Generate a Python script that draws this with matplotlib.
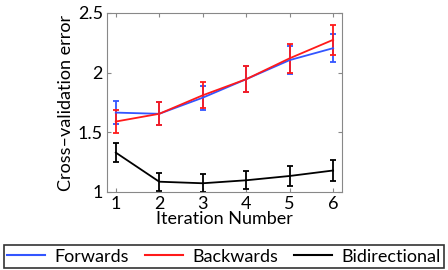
import matplotlib
matplotlib.use('Agg')
import matplotlib.pyplot as plt
import numpy as np

plt.rcParams['font.family'] = ['Lato', 'DejaVu Sans']

iterations = [1, 2, 3, 4, 5, 6]

forwards = [1.665, 1.655, 1.79, 1.945, 2.105, 2.205]
forwards_err = [0.095, 0.095, 0.10, 0.11, 0.115, 0.12]

backwards = [1.59, 1.655, 1.81, 1.945, 2.12, 2.275]
backwards_err = [0.095, 0.095, 0.11, 0.11, 0.12, 0.125]

bidirectional = [1.33, 1.086, 1.073, 1.098, 1.134, 1.18]
bidirectional_err = [0.08, 0.075, 0.075, 0.075, 0.085, 0.085]

fig = plt.figure(figsize=(4.48, 2.7), dpi=100)
ax = fig.add_axes([0.239, 0.289, 0.524, 0.663])

series = [
    ('Forwards', forwards, forwards_err, '#3355ff'),
    ('Backwards', backwards, backwards_err, '#ff1a1a'),
    ('Bidirectional', bidirectional, bidirectional_err, 'black'),
]
handles = []
for name, vals, errs, col in series:
    ax.errorbar(iterations, vals, yerr=errs, color=col, lw=1.3,
                elinewidth=1.3, capsize=2.5, capthick=1.3)
    h, = ax.plot([], [], color=col, lw=1.5, label=name)
    handles.append(h)

ax.set_xlim(0.8, 6.2)
ax.set_ylim(1, 2.5)
ax.set_xticks(iterations)
ax.set_yticks([1, 1.5, 2, 2.5])
ax.set_yticklabels(['1', '1.5', '2', '2.5'])
ax.tick_params(direction='in', top=True, right=True, length=3,
               color='#888888', labelsize=13, pad=3)
for s in ax.spines.values():
    s.set_color('#888888')
ax.set_xlabel('Iteration Number', fontsize=13, labelpad=-1)
ax.set_ylabel('Cross\u2013validation error', fontsize=13, labelpad=3)

leg = fig.legend(handles=handles, loc='lower center', ncol=3,
                 bbox_to_anchor=(0.5, 0.0), fontsize=13, frameon=True,
                 fancybox=False, edgecolor='black', handlelength=2.1,
                 borderpad=0.2, columnspacing=0.9, handletextpad=0.5,
                 borderaxespad=0.1)
leg.get_frame().set_linewidth(1.2)

fig.savefig('out.png', dpi=100)
